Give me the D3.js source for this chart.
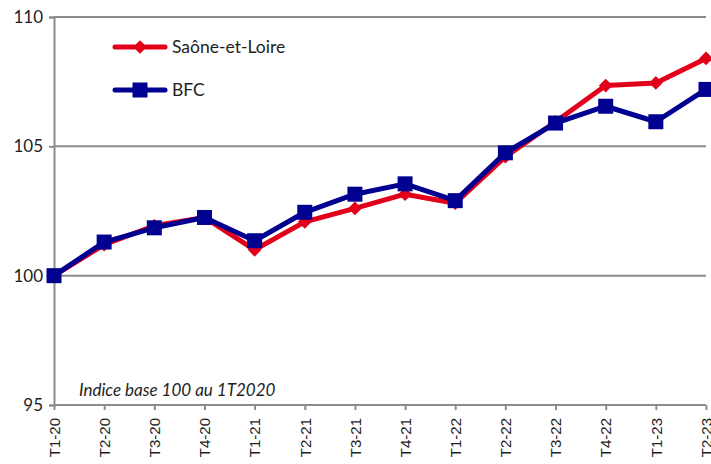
<!DOCTYPE html>
<html>
<head>
<meta charset="utf-8">
<script src="https://cdn.jsdelivr.net/npm/d3@7"></script>
<style>
  html, body { margin: 0; padding: 0; background: #fff; }
  svg { display: block; }
</style>
</head>
<body>
<svg id="chart" width="711" height="464"></svg>
<script>
// Quarterly index, base 100 in Q1 2020
const quarters = ["T1-20","T2-20","T3-20","T4-20","T1-21","T2-21","T3-21","T4-21",
                  "T1-22","T2-22","T3-22","T4-22","T1-23","T2-23"];
const saoneEtLoire = [100, 101.2, 101.93, 102.25, 101.0, 102.08, 102.6, 103.15,
                      102.8, 104.6, 105.95, 107.35, 107.45, 108.4];
const bfc = [100, 101.3, 101.85, 102.25, 101.35, 102.45, 103.15, 103.55,
             102.9, 104.75, 105.9, 106.55, 105.95, 107.2];
const yTicks = [95, 100, 105, 110];
const seriesNames = ["Saône-et-Loire", "BFC"];
const noteText = "Indice base 100 au 1T2020";

const RED = "#e2001a", BLUE = "#000091", GRID = "#8c8c8c";
const svg = d3.select("#chart");
const plotLeft = 54, plotRight = 706, plotTop = 17, plotBottom = 405;

const x = d3.scalePoint().domain(quarters).range([plotLeft, plotRight]);
const y = d3.scaleLinear().domain([95, 110]).range([plotBottom, plotTop]);

// horizontal gridlines
svg.append("g").selectAll("line").data(yTicks.filter(d => d !== 95)).join("line")
  .attr("x1", plotLeft).attr("x2", plotRight)
  .attr("y1", d => y(d)).attr("y2", d => y(d))
  .attr("stroke", GRID).attr("stroke-width", 2);

// y axis
const yAxis = svg.append("g").attr("transform", `translate(${plotLeft},0)`)
  .call(d3.axisLeft(y).tickValues(yTicks).tickSize(5).tickPadding(6).tickFormat(d3.format("d")));
yAxis.select(".domain").attr("stroke", GRID).attr("stroke-width", 2);
yAxis.selectAll(".tick line").attr("stroke", GRID).attr("stroke-width", 2);
yAxis.selectAll(".tick text").attr("font-family", "Lato, 'Open Sans', sans-serif")
  .attr("font-size", 17).attr("fill", "#1e1e1e");

// x axis
const xAxis = svg.append("g").attr("transform", `translate(0,${plotBottom})`)
  .call(d3.axisBottom(x).tickSize(5).tickPadding(0));
xAxis.select(".domain").attr("stroke", GRID).attr("stroke-width", 2)
  .attr("d", `M${plotLeft},0H${plotRight}`);
xAxis.selectAll(".tick line").attr("stroke", GRID).attr("stroke-width", 2);
xAxis.selectAll(".tick text")
  .attr("font-family", "'Liberation Sans', Arial, sans-serif")
  .attr("font-size", 15).attr("fill", "#1e1e1e")
  .attr("transform", "rotate(-90)")
  .attr("text-anchor", "end").attr("x", -13).attr("y", 0).attr("dy", "0.35em");

const line = d3.line().x((d, i) => x(quarters[i])).y(d => y(d));

// Saône-et-Loire series
svg.append("path").datum(saoneEtLoire).attr("d", line)
  .attr("fill", "none").attr("stroke", RED).attr("stroke-width", 5)
  .attr("stroke-linejoin", "round");
const diamond = d3.symbol().type(d3.symbolDiamond2).size(120);
svg.append("g").selectAll("path").data(saoneEtLoire).join("path")
  .attr("d", diamond)
  .attr("transform", (d, i) => `translate(${x(quarters[i])},${y(d)})`)
  .attr("fill", RED);

// BFC series
svg.append("path").datum(bfc).attr("d", line)
  .attr("fill", "none").attr("stroke", BLUE).attr("stroke-width", 5)
  .attr("stroke-linejoin", "round");
svg.append("g").selectAll("rect").data(bfc).join("rect")
  .attr("x", (d, i) => x(quarters[i]) - 7.5).attr("y", d => y(d) - 7.5)
  .attr("width", 15).attr("height", 15).attr("fill", BLUE);

// legend
const legend = svg.append("g").attr("font-family", "Lato, 'Open Sans', sans-serif")
  .attr("font-size", 17.5).attr("fill", "#1e1e1e");
const legendRows = [
  { name: seriesNames[0], color: RED, y: 47, marker: "diamond" },
  { name: seriesNames[1], color: BLUE, y: 90, marker: "square" }
];
legendRows.forEach(r => {
  legend.append("line").attr("x1", 115).attr("x2", 165).attr("y1", r.y).attr("y2", r.y)
    .attr("stroke", r.color).attr("stroke-width", 5).attr("stroke-linecap", "round");
  if (r.marker === "diamond") {
    legend.append("path").attr("d", diamond).attr("transform", `translate(140,${r.y})`)
      .attr("fill", r.color);
  } else {
    legend.append("rect").attr("x", 132.5).attr("y", r.y - 7.5).attr("width", 15).attr("height", 15)
      .attr("fill", r.color);
  }
  legend.append("text").attr("x", 172).attr("y", r.y).attr("dy", "0.35em").text(r.name);
});

// note
svg.append("text").attr("x", 79).attr("y", 396)
  .attr("font-family", "Lato, 'Open Sans', sans-serif").attr("font-style", "italic")
  .attr("font-size", 17).attr("fill", "#1e1e1e").text(noteText);
</script>
</body>
</html>
